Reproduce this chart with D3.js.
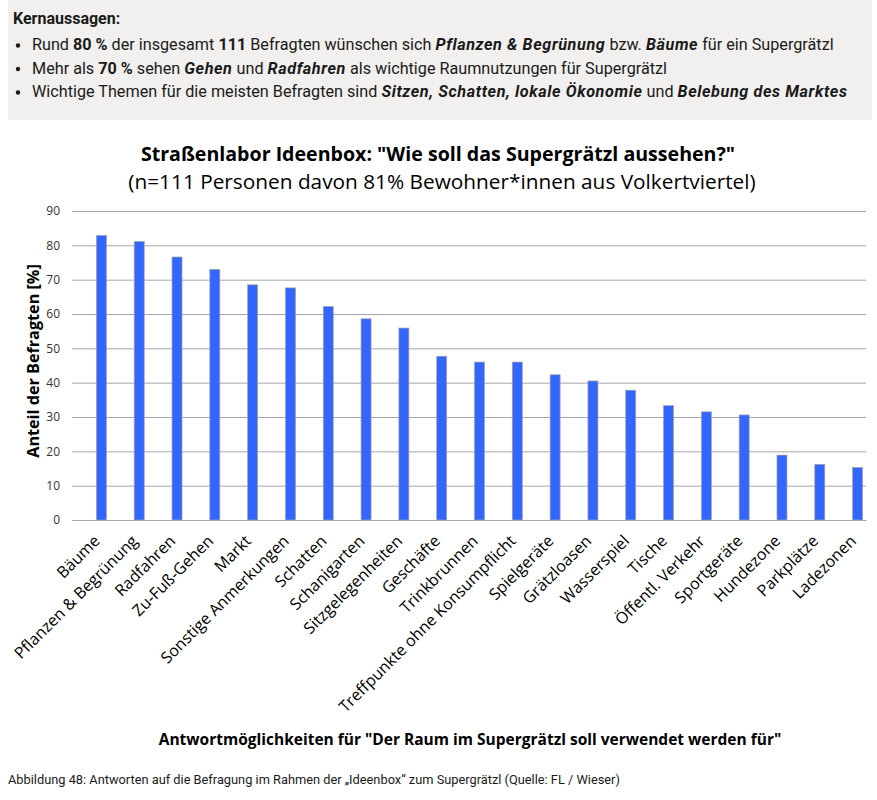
<!DOCTYPE html>
<html>
<head>
<meta charset="utf-8">
<script src="https://cdn.jsdelivr.net/npm/d3@7"></script>
<style>
  body { margin: 0; background: #fff; }
  svg { display: block; }
</style>
</head>
<body>
<div id="chart"></div>
<script>
const categories = ["Bäume", "Pflanzen & Begrünung", "Radfahren", "Zu-Fuß-Gehen", "Markt",
  "Sonstige Anmerkungen", "Schatten", "Schanigarten", "Sitzgelegenheiten", "Geschäfte",
  "Trinkbrunnen", "Treffpunkte ohne Konsumpflicht", "Spielgeräte", "Grätzloasen",
  "Wasserspiel", "Tische", "Öffentl. Verkehr", "Sportgeräte", "Hundezone", "Parkplätze", "Ladezonen"];
const values = [82.9, 81.1, 76.6, 73.0, 68.5, 67.6, 62.2, 58.6, 55.9, 47.7, 46.0, 46.0,
  42.3, 40.5, 37.8, 33.3, 31.5, 30.6, 18.9, 16.2, 15.3];
const yTicks = [0, 10, 20, 30, 40, 50, 60, 70, 80, 90];

const keyPoints = [
  [["Rund ", ""], ["80 %", "b"], [" der insgesamt ", ""], ["111", "b"], [" Befragten wünschen sich ", ""],
   ["Pflanzen & Begrünung", "bi"], [" bzw. ", ""], ["Bäume", "bi"], [" für ein Supergrätzl", ""]],
  [["Mehr als ", ""], ["70 %", "b"], [" sehen ", ""], ["Gehen", "bi"], [" und ", ""], ["Radfahren", "bi"],
   [" als wichtige Raumnutzungen für Supergrätzl", ""]],
  [["Wichtige Themen für die meisten Befragten sind ", ""], ["Sitzen, Schatten, lokale Ökonomie", "bi"],
   [" und ", ""], ["Belebung des Marktes", "bi"]]
];

const W = 877, H = 800;
const margin = { top: 211, right: 11, bottom: 280, left: 72 };
const chartFont = "'Open Sans', 'Noto Sans', sans-serif";
const boxFont = "'Roboto', sans-serif";

const svg = d3.select("#chart").append("svg")
  .attr("width", W)
  .attr("height", H);

// Kernaussagen box
svg.append("rect")
  .attr("x", 8).attr("y", 0)
  .attr("width", 864).attr("height", 120)
  .attr("fill", "#f1f0ee");

svg.append("text")
  .attr("x", 13).attr("y", 24)
  .attr("font-family", boxFont)
  .attr("font-size", 16)
  .attr("font-weight", "bold")
  .attr("fill", "#1a1a1a")
  .text("Kernaussagen:");

keyPoints.forEach((line, i) => {
  const y = 50 + i * 23.5;
  svg.append("circle")
    .attr("cx", 18).attr("cy", y - 4.5).attr("r", 2.2)
    .attr("fill", "#1a1a1a");
  const t = svg.append("text")
    .attr("x", 32).attr("y", y)
    .attr("font-family", boxFont)
    .attr("font-size", 16.2)
    .attr("fill", "#1a1a1a");
  line.forEach(([s, st]) => {
    t.append("tspan")
      .attr("font-weight", st.includes("b") ? "bold" : "normal")
      .attr("font-style", st.includes("i") ? "italic" : "normal")
      .attr("letter-spacing", st === "bi" ? 0.6 : 0)
      .text(s);
  });
});

// Titles
svg.append("text")
  .attr("x", 438).attr("y", 161)
  .attr("text-anchor", "middle")
  .attr("font-family", chartFont)
  .attr("font-size", 19.6)
  .attr("font-weight", "bold")
  .attr("fill", "#000")
  .text('Straßenlabor Ideenbox: "Wie soll das Supergrätzl aussehen?"');

svg.append("text")
  .attr("x", 442).attr("y", 189)
  .attr("text-anchor", "middle")
  .attr("font-family", chartFont)
  .attr("font-size", 20.8)
  .attr("fill", "#000")
  .text("(n=111 Personen davon 81% Bewohner*innen aus Volkertviertel)");

const innerW = W - margin.left - margin.right;
const innerH = H - margin.top - margin.bottom;
const g = svg.append("g").attr("transform", `translate(${margin.left},${margin.top})`);

const x = d3.scaleBand().domain(categories).range([0, innerW]).padding(0);
const y = d3.scaleLinear().domain([0, 90]).range([innerH, 0]);
const barW = 10;
const barOffset = 10.5;

// gridlines
g.append("g")
  .selectAll("line")
  .data(yTicks)
  .join("line")
  .attr("x1", 0).attr("x2", innerW)
  .attr("y1", d => y(d) + 0.5).attr("y2", d => y(d) + 0.5)
  .attr("stroke", "#a6a6a6")
  .attr("stroke-width", 1);

// y axis labels
const yAxis = g.append("g")
  .call(d3.axisLeft(y).tickValues(yTicks).tickSize(0).tickPadding(12));
yAxis.select(".domain").remove();
yAxis.selectAll("text")
  .attr("font-family", chartFont)
  .attr("font-size", 12)
  .attr("fill", "#333");

// bars
g.append("g")
  .selectAll("rect")
  .data(values)
  .join("rect")
  .attr("x", (d, i) => x(categories[i]) + x.bandwidth() / 2 + barOffset - barW / 2)
  .attr("y", d => y(d))
  .attr("width", barW)
  .attr("height", d => innerH - y(d))
  .attr("fill", "#3366ff")
  .attr("stroke", "#a0a0a8")
  .attr("stroke-width", 0.7);

// x axis
const xAxis = g.append("g")
  .attr("transform", `translate(0,${innerH})`)
  .call(d3.axisBottom(x).tickSize(0).tickPadding(0));
xAxis.select(".domain").attr("stroke", "#a6a6a6");
xAxis.selectAll("text")
  .attr("font-family", chartFont)
  .attr("font-size", 16)
  .attr("fill", "#000")
  .attr("text-anchor", "end")
  .attr("dy", "0")
  .attr("transform", "translate(10,22) rotate(-45)");

// axis titles
svg.append("text")
  .attr("transform", `translate(39,361) rotate(-90)`)
  .attr("text-anchor", "middle")
  .attr("font-family", chartFont)
  .attr("font-size", 16.2)
  .attr("font-weight", "bold")
  .attr("fill", "#000")
  .text("Anteil der Befragten [%]");

svg.append("text")
  .attr("x", 470).attr("y", 745)
  .attr("text-anchor", "middle")
  .attr("font-family", chartFont)
  .attr("font-size", 15.5)
  .attr("font-weight", "bold")
  .attr("fill", "#000")
  .text('Antwortmöglichkeiten für "Der Raum im Supergrätzl soll verwendet werden für"');

// caption
svg.append("text")
  .attr("x", 8).attr("y", 784)
  .attr("font-family", boxFont)
  .attr("font-size", 12.8)
  .attr("fill", "#1a1a1a")
  .text("Abbildung 48: Antworten auf die Befragung im Rahmen der „Ideenbox“ zum Supergrätzl (Quelle: FL / Wieser)");
</script>
</body>
</html>
